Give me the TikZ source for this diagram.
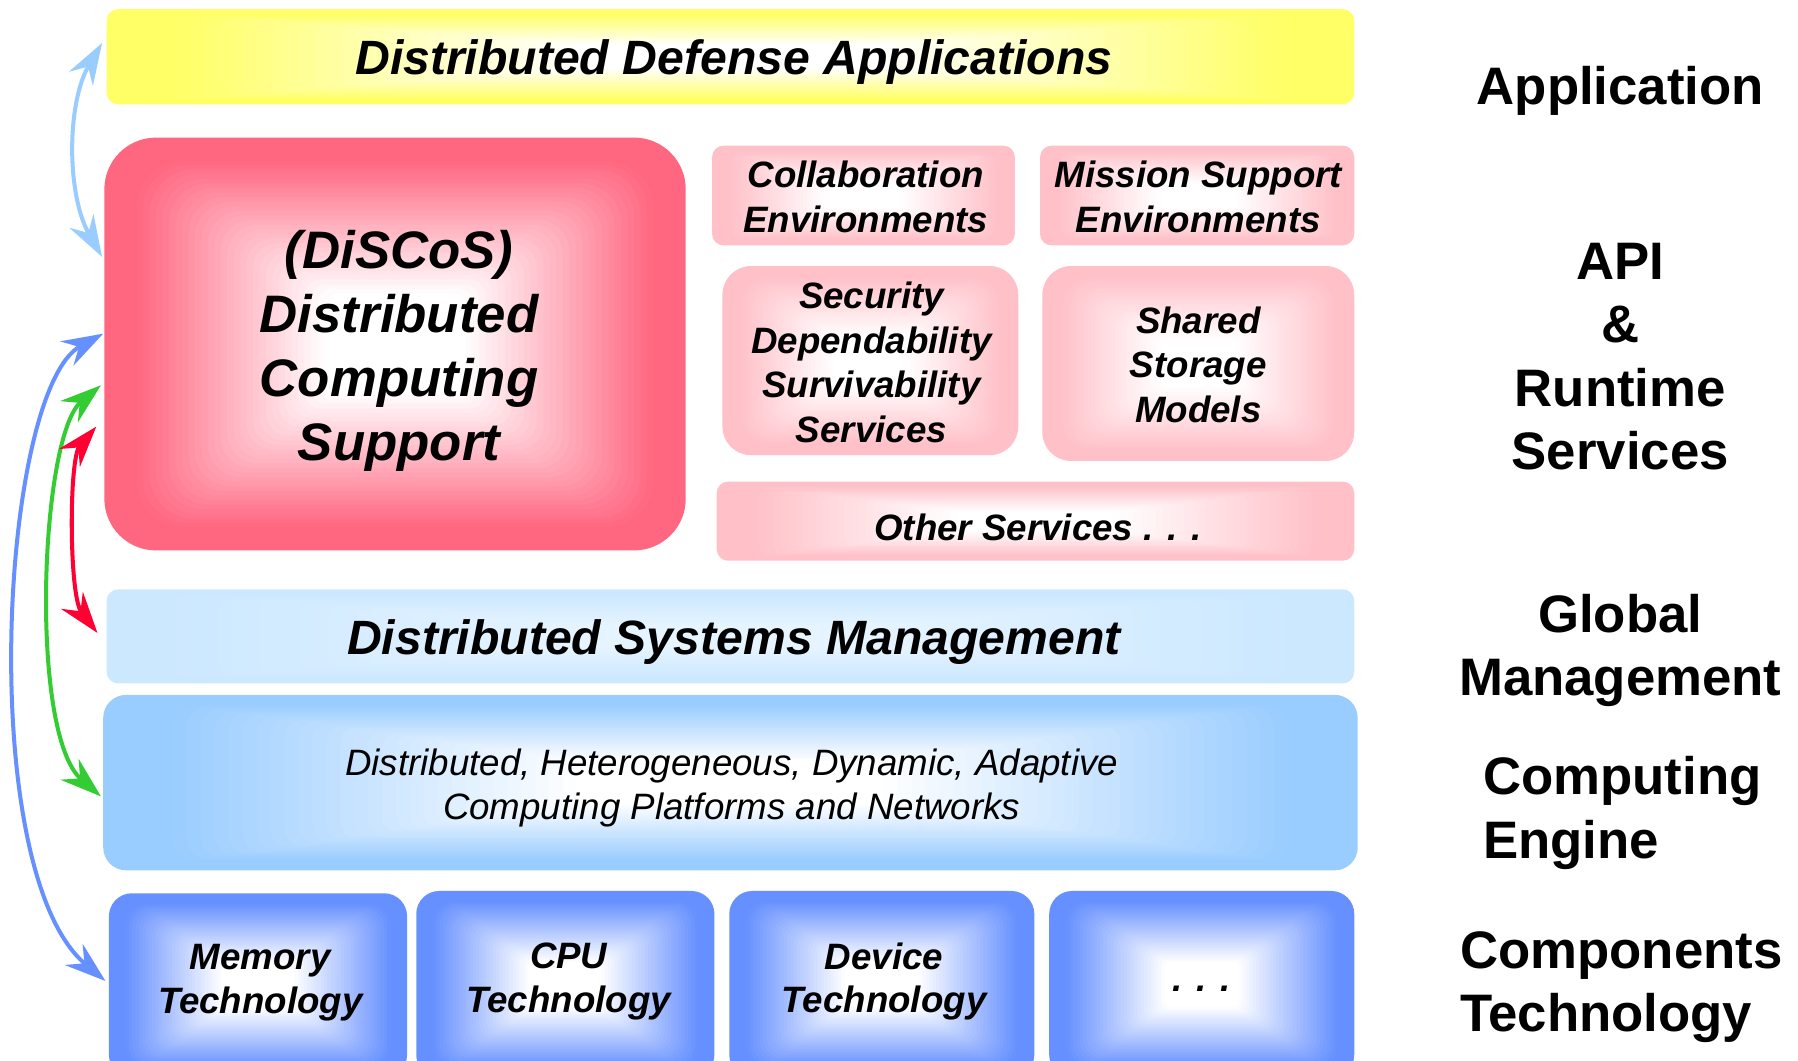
\documentclass[tikz,border=0pt]{standalone}
\usepackage{fontspec}
\setmainfont{Liberation Sans}
\usetikzlibrary{arrows.meta,calc}

\definecolor{appyellow}{HTML}{FFFF66}
\definecolor{discosred}{HTML}{FF6680}
\definecolor{svcpink}{HTML}{FFC0C8}
\definecolor{mgmtblue}{HTML}{CCE8FF}
\definecolor{platblue}{HTML}{99CCFF}
\definecolor{techblue}{HTML}{6690FF}
\definecolor{arrlight}{HTML}{99CCFF}
\definecolor{arrblue}{HTML}{6690FF}
\definecolor{arrgreen}{HTML}{33CC33}
\definecolor{arrred}{HTML}{FF0033}

\tikzset{
  panelbox/.style={rectangle, inner sep=0pt, outer sep=0pt},
  titletext/.style={font=\fontsize{21pt}{25pt}\selectfont\bfseries\itshape, align=center, inner sep=0pt},
  svctext/.style={font=\fontsize{16pt}{19.5pt}\selectfont\bfseries\itshape, align=center, inner sep=0pt},
  bigtext/.style={font=\fontsize{23pt}{28pt}\selectfont\bfseries\itshape, align=center, inner sep=0pt},
  plattext/.style={font=\fontsize{16pt}{19pt}\selectfont\itshape, align=center, inner sep=0pt},
  techtext/.style={font=\fontsize{16pt}{19pt}\selectfont\bfseries\itshape, align=center, inner sep=0pt},
  layertext/.style={font=\fontsize{23pt}{27.6pt}\selectfont\bfseries, inner sep=0pt},
  link/.style={line width=1.75pt,
    {Stealth[length=18pt,width=12pt,inset=6pt]}-{Stealth[length=18pt,width=12pt,inset=6pt]}},
}

% \panel{name}{x1}{y1}{x2}{y2}{colour}{corner radius}{centre tint}
% a rounded box whose colour fades from the rim to a lighter centre
\newcommand\panel[8]{%
  \node[panelbox, minimum width={(#4-#2)*0.5pt}, minimum height={(#5-#3)*0.5pt}]
    (#1) at ({(#2+#4)/2},{(#3+#5)/2}) {};
  \foreach \k in {0,...,44}{%
    \pgfmathsetmacro\s{1-\k/45}%
    \pgfmathsetmacro\m{#8+(100-#8)*min(1,max(0,(\s-0.25)/0.65))}%
    \pgfmathsetmacro\r{#7*\s*0.5}%
    \fill[#6!\m!white, rounded corners=\r pt]
      ($(#1.center)!\s!(#1.north west)$) rectangle ($(#1.center)!\s!(#1.south east)$);
  }%
}

\begin{document}
\begin{tikzpicture}[x=0.5pt,y=-0.5pt]
\useasboundingbox (0,0) rectangle (1568,925);
\clip (0,0) rectangle (1568,925);

% layer boxes
\panel{app}{93}{8}{1181}{91}{appyellow}{10}{0}
\panel{discos}{91}{120}{598}{480}{discosred}{45}{0}
\panel{collab}{621}{127}{885}{214}{svcpink}{10}{0}
\panel{mission}{907}{127}{1181}{214}{svcpink}{10}{0}
\panel{secur}{630}{232}{888}{397}{svcpink}{25}{0}
\panel{shared}{909}{232}{1181}{402}{svcpink}{25}{0}
\panel{other}{625}{420}{1181}{489}{svcpink}{10}{0}
\panel{dsm}{93}{514}{1181}{596}{mgmtblue}{10}{50}
\panel{plat}{90}{606}{1184}{759}{platblue}{20}{0}
\panel{mem}{95}{779}{355}{940}{techblue}{20}{0}
\panel{cpu}{363}{777}{623}{940}{techblue}{20}{0}
\panel{dev}{636}{777}{902}{940}{techblue}{20}{0}
\panel{more}{915}{777}{1181}{940}{techblue}{20}{0}

% box texts
\node[titletext] (appT) at (640,54) {Distributed Defense Applications};
\node[bigtext] (discosT) at (348,306) {(DiSCoS)\\Distributed\\Computing\\Support};
\node[svctext] (collabT) at (755,172) {Collaboration\\Environments};
\node[svctext] (missionT) at (1045,172) {Mission Support\\Environments};
\node[svctext] (securT) at (760,316) {Security\\Dependability\\Survivability\\Services};
\node[svctext] (sharedT) at (1045,318) {Shared\\Storage\\Models};
\node[svctext] (otherT) at (905,460) {Other Services . . .};
\node[titletext] (dsmT) at (640,560) {Distributed Systems Management};
\node[plattext] (platT) at (638,687) {Distributed, Heterogeneous, Dynamic, Adaptive\\Computing Platforms and Networks};
\node[techtext] (memT) at (227,857) {Memory\\Technology};
\node[techtext] (cpuT) at (496,856) {CPU\\Technology};
\node[techtext] (devT) at (771,856) {Device\\Technology};
\node[techtext] (moreT) at (1048,862) {. . .};

% layer names
\node[layertext] (lApp) at (1413,79) {Application};
\node[layertext, align=center] (lApi) at (1413,311) {API\\\&\\Runtime\\Services};
\node[layertext, align=center] (lGlob) at (1413,567) {Global\\Management};
\node[layertext, align=left, anchor=west] (lEng) at (1293,709) {Computing\\Engine};
\node[layertext, align=left, anchor=west] (lComp) at (1273,861) {Components\\Technology};

% interactions between layers
\draw[link, arrlight] ([xshift=-2pt,yshift=6pt]app.west) .. controls (58,90) and (58,170) .. ([xshift=-1pt,yshift=38pt]discos.west);
\draw[link, arrblue] ([xshift=-0.5pt,yshift=4.5pt]discos.west) .. controls (0,340) and (-22,760) .. ([xshift=-1.5pt,yshift=2pt]mem.west);
\draw[link, arrgreen] ([xshift=-1.5pt,yshift=-18pt]discos.west) .. controls (35,380) and (25,640) .. ([xshift=-1pt,yshift=-6pt]plat.west);
\draw[link, arrred] ([xshift=-3.5pt,yshift=-36pt]discos.west) .. controls (60,400) and (60,520) .. ([xshift=-4pt,yshift=1.5pt]dsm.west);
\end{tikzpicture}
\end{document}
